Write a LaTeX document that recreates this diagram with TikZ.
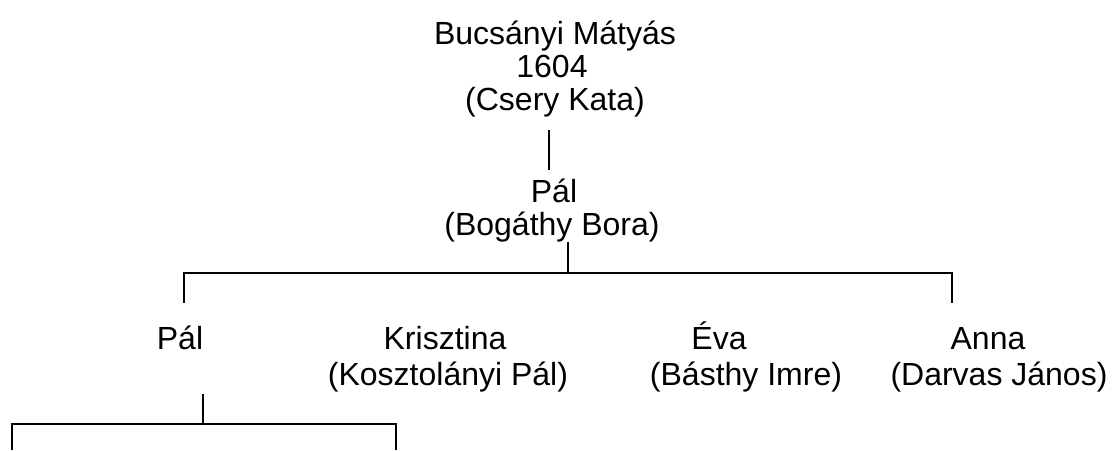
\documentclass[tikz,border=0pt]{standalone}
\usepackage{fontspec}
\setmainfont{Liberation Sans}
\begin{document}
\begin{tikzpicture}[x=0.75pt,y=-0.75pt,
  txt/.style={anchor=base, inner sep=0pt, font=\fontsize{24}{28}\selectfont},
  conn/.style={line width=1.5pt, black}]
\useasboundingbox (0,0) rectangle (1114,450);
% people
\node[txt] (m1) at (555,44) {Bucsányi Mátyás};
\node[txt] (m2) at (552,77) {1604};
\node[txt] (m3) at (555,110) {(Csery Kata)};
\node[txt] (p1) at (554,202) {Pál};
\node[txt] (p2) at (552,235) {(Bogáthy Bora)};
\node[txt] (c1) at (180,349) {Pál};
\node[txt] (k1) at (445,349) {Krisztina};
\node[txt] (k2) at (448,385) {(Kosztolányi Pál)};
\node[txt] (e1) at (719,349) {Éva};
\node[txt] (e2) at (746,385) {(Básthy Imre)};
\node[txt] (a1) at (988,349) {Anna};
\node[txt] (a2) at (999,385) {(Darvas János)};
% junctions
\coordinate (ms) at (549,130);
\coordinate (pn) at (549,170);
\coordinate (ps) at (568,242);
\coordinate (pb) at (568,273);
\coordinate (bl) at (184,273);
\coordinate (br) at (952,273);
\coordinate (cn) at (184,303);
\coordinate (an) at (952,303);
\coordinate (cs) at (203,394);
\coordinate (cb) at (203,424);
\coordinate (ll) at (12,424);
\coordinate (lr) at (396,424);
\coordinate (gl) at (12,450);
\coordinate (gr) at (396,450);
% connectors
\draw[conn] (ms) -- (pn);
\draw[conn] (ps) -- (pb);
\draw[conn] (cn) -- (bl) -- (br) -- (an);
\draw[conn] (cs) -- (cb);
\draw[conn] (gl) -- (ll) -- (lr) -- (gr);
\end{tikzpicture}
\end{document}
